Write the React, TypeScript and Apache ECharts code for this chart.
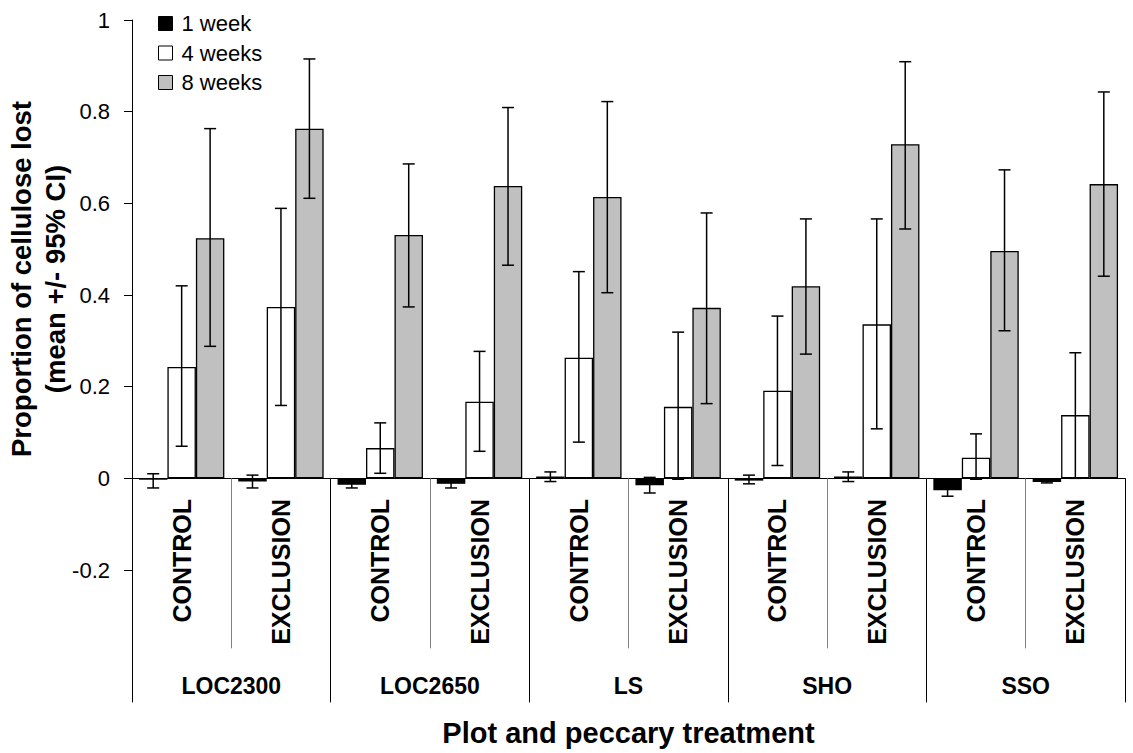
import React, { useEffect, useRef } from "react";
import * as echarts from "echarts";

const subLabels = ["CONTROL", "EXCLUSION", "CONTROL", "EXCLUSION", "CONTROL", "EXCLUSION", "CONTROL", "EXCLUSION", "CONTROL", "EXCLUSION"];
const groupLabels = ["LOC2300", "LOC2650", "LS", "SHO", "SSO"];
const seriesNames = ["1 week", "4 weeks", "8 weeks"];
const seriesColors = ["#000000", "#ffffff", "#c0c0c0"];
const yTitle = "Proportion of cellulose lost\n(mean +/- 95% CI)";
const xTitle = "Plot and peccary treatment";

const week1 = [-0.003, -0.007, -0.014, -0.012, 0.004, -0.015, -0.005, 0.004, -0.026, -0.008];
const week1Lo = [-0.021, -0.021, -0.021, -0.021, -0.007, -0.032, -0.012, -0.007, -0.039, -0.010];
const week1Hi = [0.010, 0.007, -0.007, -0.003, 0.014, 0.002, 0.007, 0.014, -0.013, -0.006];

const week4 = [0.243, 0.374, 0.066, 0.167, 0.263, 0.156, 0.191, 0.336, 0.045, 0.138];
const week4Lo = [0.070, 0.159, 0.011, 0.059, 0.079, -0.002, 0.028, 0.108, -0.002, 0.000];
const week4Hi = [0.420, 0.589, 0.121, 0.277, 0.451, 0.319, 0.354, 0.566, 0.097, 0.274];

const week8 = [0.524, 0.763, 0.531, 0.638, 0.614, 0.372, 0.419, 0.729, 0.496, 0.642];
const week8Lo = [0.288, 0.611, 0.374, 0.465, 0.405, 0.163, 0.271, 0.544, 0.322, 0.441];
const week8Hi = [0.763, 0.915, 0.686, 0.809, 0.822, 0.579, 0.566, 0.909, 0.673, 0.843];

const yTicks = { min: -0.2, max: 1, interval: 0.2 };

const FONT = "'Liberation Sans', Arial, sans-serif";
const CAT_GAP = 0.14;

export default function App() {
  const ref = useRef<HTMLDivElement>(null);

  useEffect(() => {
    document.body.style.margin = "0";
    if (!ref.current) return;
    const chart = echarts.init(ref.current, undefined, { renderer: "svg" });

    const means = [week1, week4, week8];
    const los = [week1Lo, week4Lo, week8Lo];
    const his = [week1Hi, week4Hi, week8Hi];

    const barSeries = means.map((vals, k) => ({
      name: seriesNames[k],
      type: "bar",
      xAxisIndex: 0,
      yAxisIndex: 0,
      data: vals,
      barGap: "0%",
      barCategoryGap: (CAT_GAP * 100) + "%",
      itemStyle: { color: seriesColors[k], borderColor: "#000", borderWidth: 1.3 },
      z: 2,
    }));

    const errSeries = means.map((vals, k) => ({
      name: seriesNames[k] + " CI",
      type: "custom",
      xAxisIndex: 0,
      yAxisIndex: 0,
      z: 5,
      silent: true,
      data: vals.map((_, i) => [i, los[k][i], his[k][i]]),
      encode: { x: 0, y: [1, 2] },
      renderItem: (params: any, api: any) => {
        const i = api.value(0);
        const lo = api.coord([i, api.value(1)]);
        const hi = api.coord([i, api.value(2)]);
        const cw = api.size([1, 0])[0];
        const bw = (cw * (1 - CAT_GAP)) / 3;
        const x = lo[0] + (k - 1) * bw;
        const cap = 6;
        const style = { stroke: "#000", lineWidth: 1.5 };
        return {
          type: "group",
          children: [
            { type: "line", shape: { x1: x, y1: lo[1], x2: x, y2: hi[1] }, style },
            { type: "line", shape: { x1: x - cap, y1: lo[1], x2: x + cap, y2: lo[1] }, style },
            { type: "line", shape: { x1: x - cap, y1: hi[1], x2: x + cap, y2: hi[1] }, style },
          ],
        };
      },
    }));

    chart.setOption({
      animation: false,
      textStyle: { fontFamily: FONT },
      grid: { left: 132, right: 8, top: 20, bottom: 183, containLabel: false, outerBoundsMode: "none" },
      legend: {
        data: seriesNames,
        orient: "vertical",
        left: 153,
        top: 7,
        itemWidth: 14,
        itemHeight: 14,
        itemGap: 6.5,
        icon: "rect",
        itemStyle: { borderColor: "#000", borderWidth: 1 },
        textStyle: { fontSize: 22, color: "#000", fontFamily: FONT, lineHeight: 23, padding: [0, 0, 0, 4] },
      },
      graphic: [
        {
          type: "text",
          x: 38,
          y: 279,
          rotation: Math.PI / 2,
          style: {
            text: yTitle,
            fontSize: 27.5,
            fontWeight: "bold",
            fontFamily: FONT,
            fill: "#000",
            lineHeight: 34,
            align: "center",
            verticalAlign: "middle",
          },
        },
      ],
      xAxis: [
        {
          type: "category",
          data: subLabels,
          position: "bottom",
          axisLine: { show: true, onZero: true, onZeroAxisIndex: 0, lineStyle: { color: "#000", width: 1 } },
          axisTick: { show: true, inside: false, length: 170, interval: 0, lineStyle: { color: "#808080", width: 1 } },
          axisLabel: {
            interval: 0,
            rotate: 90,
            margin: -71,
            fontSize: 25,
            fontWeight: "bold",
            color: "#000",
            fontFamily: FONT,
          },
          splitLine: { show: false },
        },
        {
          type: "category",
          data: groupLabels,
          position: "bottom",
          z: 3,
          axisLine: { show: false, onZero: true, onZeroAxisIndex: 0 },
          axisTick: { show: true, inside: false, length: 224, interval: 0, lineStyle: { color: "#000", width: 1 } },
          axisLabel: {
            interval: 0,
            margin: 104,
            fontSize: 23,
            fontWeight: "bold",
            color: "#000",
            lineHeight: 24,
            fontFamily: FONT,
          },
          name: xTitle,
          nameLocation: "middle",
          nameGap: 148,
          nameTextStyle: { fontSize: 29, fontWeight: "bold", color: "#000", lineHeight: 29, fontFamily: FONT },
          splitLine: { show: false },
        },
      ],
      yAxis: {
        type: "value",
        min: yTicks.min,
        max: yTicks.max,
        interval: yTicks.interval,
        axisLine: { show: true, onZero: false, lineStyle: { color: "#000", width: 1 } },
        axisTick: { show: true, inside: false, length: 8, lineStyle: { color: "#000" } },
        axisLabel: {
          margin: 22,
          fontSize: 22,
          color: "#000",
          fontFamily: FONT,
          formatter: (v: number) => String(Math.round(v * 10) / 10),
        },
        splitLine: { show: false },
      },
      series: [...barSeries, ...errSeries],
    });

    return () => {
      chart.dispose();
    };
  }, []);

  return <div ref={ref} style={{ width: 1133, height: 753 }} />;
}
